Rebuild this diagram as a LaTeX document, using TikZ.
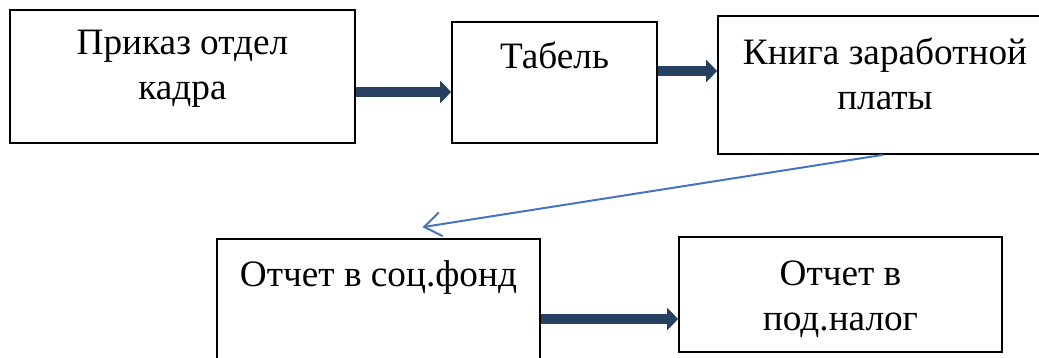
\documentclass[tikz,border=0pt]{standalone}
\usepackage{fontspec}
\setmainfont{Liberation Serif}
\usetikzlibrary{positioning,arrows.meta}
\definecolor{navy}{RGB}{37,64,97}
\definecolor{linkblue}{RGB}{68,114,196}
\begin{document}
\begin{tikzpicture}[
        box/.style={draw=black, line width=1.2pt, rectangle, inner sep=0pt},
        txt/.style={font=\fontsize{26.5}{32}\selectfont, align=center, inner sep=0pt},
        flow/.style={-{Triangle[length=0.275cm, width=0.55cm]}, line width=0.25cm, navy},
        link/.style={-{Straight Barb[length=0.42cm, width=0.6cm]}, line width=1.4pt, linkblue}
    ]
        \useasboundingbox (0,0) rectangle (25.975,8.95);

        % Блоки
        \node[box, minimum width=8.625cm, minimum height=3.325cm] (prikaz) at (4.5625,7.0375) {};
        \node[box, minimum width=5.125cm, minimum height=3.025cm] (tabel) at (13.8625,6.8875) {};
        \node[box, minimum width=8.35cm, minimum height=3.45cm] (kniga) at (22.125,6.825) {};
        \node[box, minimum width=8.075cm, minimum height=3.575cm] (socfond) at (9.4625,1.1875) {};
        \node[box, minimum width=8.075cm, minimum height=2.875cm] (nalog) at (21.0125,1.5875) {};

        % Надписи
        \node[txt, below=0.52cm of prikaz.north] (prikazt) {Приказ отдел\\кадра};
        \node[txt, below=0.5cm of tabel.north] (tabelt) {Табель};
        \node[txt, below=0.55cm of kniga.north] (knigat) {Книга заработной\\платы};
        \node[txt, below=0.55cm of socfond.north] (socfondt) {Отчет в соц.фонд};
        \node[txt, below=0.6cm of nalog.north] (nalogt) {Отчет в\\под.налог};

        % Стрелки
        \draw[flow] (prikaz.east |- 0,6.65) -- (tabel.west |- 0,6.65);
        \draw[flow] (tabel.east |- 0,7.175) -- (kniga.west |- 0,7.175);
        \draw[flow] (socfond.east |- 0,0.975) -- (nalog.west |- 0,0.975);

        \coordinate (socfondin) at ([xshift=1.1cm, yshift=0.275cm]socfond.north);
        \draw[link] ([xshift=-0.05cm]kniga.south) -- (socfondin);

    \end{tikzpicture}
\end{document}
